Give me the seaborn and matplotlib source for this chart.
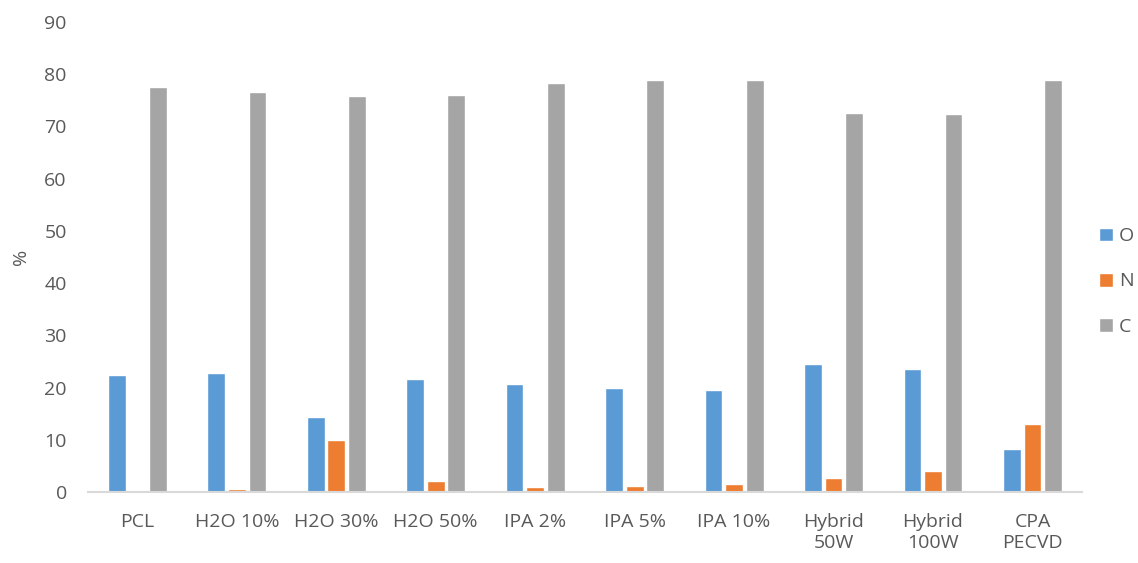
import pandas as pd
import matplotlib.pyplot as plt
import seaborn as sns

# values (%)
samples = ['PCL', 'H2O 10%', 'H2O 30%', 'H2O 50%', 'IPA 2%', 'IPA 5%',
           'IPA 10%', 'Hybrid\n50W', 'Hybrid\n100W', 'CPA\nPECVD']
oxygen = [22.4, 22.8, 14.3, 21.6, 20.6, 19.9, 19.6, 24.6, 23.6, 8.2]
nitrogen = [0.0, 0.6, 9.9, 2.2, 0.9, 1.2, 1.5, 2.7, 4.0, 13.0]
carbon = [77.6, 76.6, 75.8, 76.1, 78.4, 78.9, 78.9, 72.6, 72.3, 78.8]
elements = ['O', 'N', 'C']
colors = ['#5B9BD5', '#ED7D31', '#A5A5A5']

# long format for seaborn
df = pd.DataFrame({'sample': samples, 'O': oxygen, 'N': nitrogen, 'C': carbon})
df = df.melt(id_vars='sample', value_vars=elements, var_name='element', value_name='pct')

sns.set_theme(style='white')
plt.rcParams['font.family'] = ['Open Sans', 'DejaVu Sans']

fig, ax = plt.subplots(figsize=(11.38, 5.63), dpi=100)
fig.subplots_adjust(left=0.077, right=0.951, top=0.961, bottom=0.126)

sns.barplot(data=df, x='sample', y='pct', hue='element', hue_order=elements,
            palette=colors, saturation=1, width=0.62, gap=0.14, ax=ax, legend=True)

ax.set_ylim(0, 90)
ax.set_yticks(range(0, 91, 10))
ax.set_xlabel('')
ax.set_ylabel('%', color='#595959', fontsize=14, labelpad=10)
ax.tick_params(axis='both', colors='#595959', labelsize=14, length=0)
ax.tick_params(axis='x', pad=15)
ax.tick_params(axis='y', pad=15)
for s in ['top', 'right', 'left']:
    ax.spines[s].set_visible(False)
ax.spines['bottom'].set_color('#D9D9D9')
ax.spines['bottom'].set_linewidth(1.5)

handles, labels = ax.get_legend_handles_labels()
ax.get_legend().remove()
leg = fig.legend(handles, labels, loc='center left', bbox_to_anchor=(0.966, 0.5),
                 frameon=False, fontsize=14, handlelength=0.7, handleheight=0.7,
                 handletextpad=0.3, labelspacing=1.4, borderpad=0, borderaxespad=0)
for t in leg.get_texts():
    t.set_color('#595959')

fig.savefig('out.png', dpi=100)
